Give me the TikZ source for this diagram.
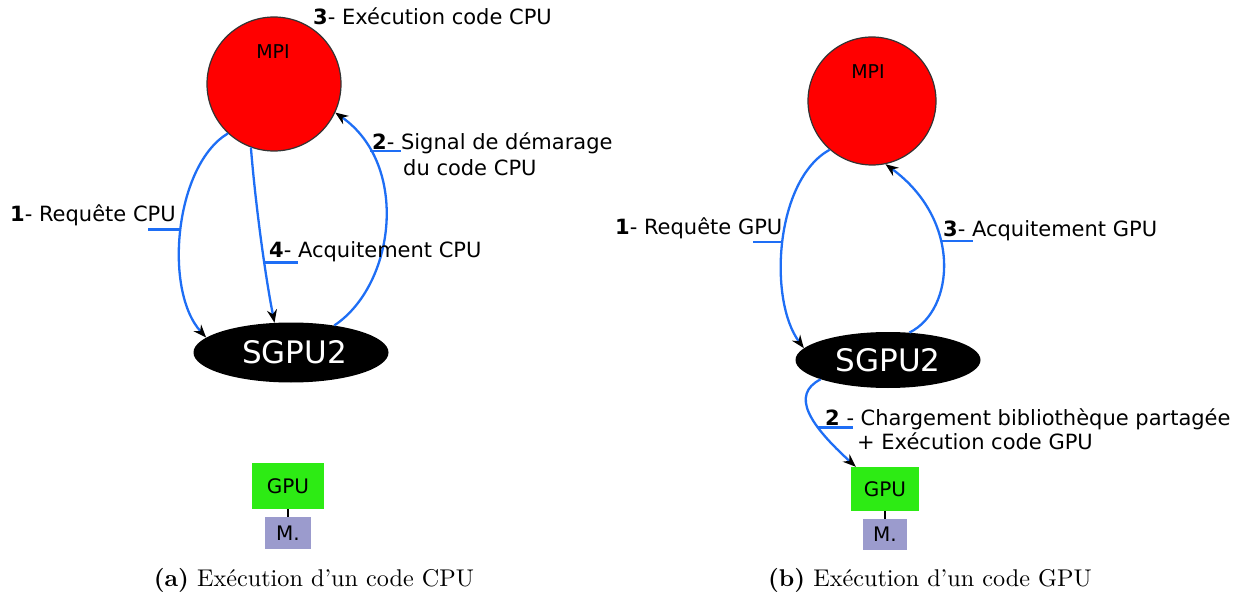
\documentclass[tikz,border=0pt]{standalone}
\usepackage{fontspec}
\newfontfamily\dv{DejaVu Sans}
\newfontfamily\capfont{lmroman10-regular}[Extension=.otf,BoldFont=lmroman10-bold]
\usetikzlibrary{arrows.meta,shapes.geometric}
\definecolor{mpired}{RGB}{255,0,0}
\definecolor{arrowblue}{RGB}{30,110,245}
\definecolor{gpugreen}{RGB}{45,235,20}
\definecolor{memlav}{RGB}{155,155,205}
\begin{document}
\begin{tikzpicture}[x=1pt,y=-1pt,
  mpi/.style={circle,fill=mpired,draw=black!80,line width=1.2pt,inner sep=0pt},
  mpitxt/.style={font=\dv\fontsize{19}{19}\selectfont,inner sep=0pt},
  sgpu/.style={ellipse,fill=black,inner sep=0pt,text=white,font=\dv\fontsize{31}{31}\selectfont},
  lbl/.style={font=\dv\fontsize{21}{25}\selectfont,inner sep=0pt,anchor=base west},
  flow/.style={draw=arrowblue,line width=2.3pt,-{Stealth[length=13pt,width=10pt,color=black]}},
  tickline/.style={draw=arrowblue,line width=2.3pt},
  gpubox/.style={fill=gpugreen,inner sep=0pt,font=\dv\fontsize{20}{20}\selectfont},
  membox/.style={fill=memlav,inner sep=0pt,font=\dv\fontsize{20}{20}\selectfont},
  link/.style={draw=black,line width=2pt},
  captxt/.style={font=\capfont\fontsize{24.2}{25}\selectfont,inner sep=0pt,anchor=base}
]
\useasboundingbox (0,0) rectangle (1233,593);

% ---------- left panel ----------
\node[mpi,minimum size=134pt] (mpiA) at (274,84) {};
\node[mpitxt] (mpiAt) at (273,52) {MPI};
\node[sgpu,minimum width=195pt,minimum height=60pt] (sgA) at (291,352.5) {\hspace*{7pt}SGPU2};
\node[gpubox,minimum width=72pt,minimum height=46pt] (gpuA) at (288,486) {GPU};
\node[membox,minimum width=46pt,minimum height=32pt] (memA) at (288,533) {M.};
\draw[link] (gpuA.south) -- (memA.north);

\draw[flow] (mpiA.227) .. controls (175,165) and (163,290) .. (sgA.170) coordinate[pos=0.5] (k1A);
\draw[tickline] (k1A) -- ++(-33,0);
\draw[flow] (mpiA.250) .. controls (256,210) and (266,280) .. (sgA.119) coordinate[pos=0.61] (k4A);
\draw[tickline] (k4A) -- ++(34,0);
\draw[flow] (sgA.32) .. controls (395,285) and (410,165) .. (mpiA.335) coordinate[pos=0.8] (k2A);
\draw[tickline] (k2A) -- ++(31,0);

\node[lbl] (l1A) at (10,222) {\textbf{1}- Requête CPU};
\node[lbl] (l3A) at (313,25) {\textbf{3}- Exécution code CPU};
\node[lbl] (l2A) at (372,150) {\textbf{2}- Signal de démarage};
\node[lbl] (l2Ab) at (403,176) {du code CPU};
\node[lbl] (l4A) at (269,258) {\textbf{4}- Acquitement CPU};

\node[captxt] (capA) at (314,586) {\textbf{(a)} Exécution d’un code CPU};

% ---------- right panel ----------
\node[mpi,minimum size=128pt] (mpiB) at (872,101) {};
\node[mpitxt] (mpiBt) at (868,72) {MPI};
\node[sgpu,minimum width=185pt,minimum height=56pt] (sgB) at (888,360) {SGPU2};
\node[gpubox,minimum width=68pt,minimum height=44pt] (gpuB) at (885,489) {GPU};
\node[membox,minimum width=44pt,minimum height=31pt] (memB) at (885,534.5) {M.};
\draw[link] (gpuB.south) -- (memB.north);

\draw[flow] (mpiB.229) .. controls (775,180) and (768,300) .. (sgB.172) coordinate[pos=0.5] (k1B);
\draw[tickline] (k1B) -- ++(-30,0);
\draw[flow] (sgB.52) .. controls (955,310) and (962,220) .. (mpiB.282) coordinate[pos=0.6] (k3B);
\draw[tickline] (k3B) -- ++(33,0);
\draw[flow] (sgB.196) .. controls (790,395) and (810,425) .. ([xshift=5pt]gpuB.north west) coordinate[pos=0.65] (k2B);
\draw[tickline] (k2B) -- ++(35,0);

\node[lbl] (l1B) at (615,235) {\textbf{1}- Requête GPU};
\node[lbl] (l3B) at (943,237) {\textbf{3}- Acquitement GPU};
\node[lbl] (l2B) at (825,425) {\textbf{2} - Chargement bibliothèque partagée};
\node[lbl] (l2Bb) at (857,449) {+ Exécution code GPU};

\node[captxt] (capB) at (930,586) {\textbf{(b)} Exécution d’un code GPU};
\end{tikzpicture}
\end{document}
